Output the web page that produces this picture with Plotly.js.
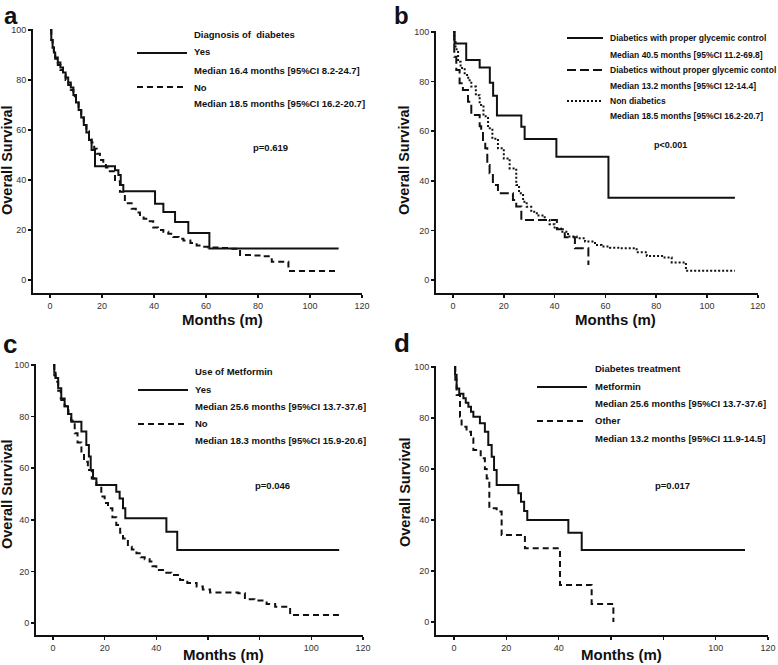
<!DOCTYPE html>
<html>
<head>
<meta charset="utf-8">
<script src="https://cdn.plot.ly/plotly-3.0.1.min.js"></script>
<style>
  html, body { margin: 0; padding: 0; background: #fff; }
  #chart { width: 778px; height: 665px; }
</style>
</head>
<body>
<div id="chart"></div>
<script>
// ---- data (months, % surviving) ----

// a: diagnosis of diabetes
const aYesMonths = [0, 0.5, 1, 1.5, 2, 3, 4, 5, 6, 7, 8, 9, 10, 11, 12, 13, 14, 15, 16, 17.3, 25, 26.3, 27.2, 28.2, 40.4, 43.6, 48.1, 53.2, 61.3, 111];
const aYesSurv = [100, 96, 93, 91, 89, 87, 85, 83, 81, 79, 77, 74, 71, 68, 65, 62, 59, 56, 52, 45.5, 43.9, 42, 38, 35.5, 30.5, 27.2, 23.2, 18.8, 12.6, 12.6];
const aNoMonths = [0, 0.5, 1, 1.5, 2, 3, 4, 5, 6, 7, 8, 9, 10, 11, 12, 13, 14, 15, 16, 17, 18, 19.2, 20.5, 21.5, 23, 25, 26.9, 28.8, 31.4, 33, 34.6, 36, 37.8, 39.7, 41.5, 43.6, 45.5, 47.4, 49.5, 51.3, 54, 56.4, 58.5, 60.9, 65, 69, 73.1, 78, 82, 85.3, 91.7, 111];
const aNoSurv = [100, 96, 93, 90.5, 88.5, 86, 84, 82, 80, 78, 76, 73.5, 71, 68, 65, 62, 59.5, 57, 55, 52.5, 50.5, 48, 46.5, 45, 43.5, 39.5, 35.3, 30.7, 28.5, 27, 25.5, 24.5, 23.5, 21, 20, 19.3, 18.5, 17.2, 16.5, 15.8, 14.8, 13.8, 13.3, 13, 12.8, 12.5, 10, 9.8, 9.5, 7.3, 3.6, 3.6];

// b: glycemic control
const bProperMonths = [0, 0.6, 5.2, 10.5, 14.5, 15.8, 17.3, 26.9, 28.2, 40.7, 61.2, 111];
const bProperSurv = [100, 95.4, 88.7, 85.7, 79.5, 74.3, 66.3, 61.8, 56.9, 49.7, 33.2, 33.2];
const bPoorMonths = [0, 0.5, 1.3, 2.6, 3.9, 5.9, 7.2, 10.5, 11.1, 11.8, 12.7, 13.5, 14.4, 15.7, 17.7, 23.6, 24.9, 26.9, 40.9, 44, 48, 53.3];
const bPoorSurv = [100, 90, 84.7, 79.3, 76.6, 71.9, 66.5, 62, 59.8, 56, 53.1, 46.4, 43, 38.3, 35, 32.3, 29.6, 24.2, 20.5, 17.2, 12.8, 6];
const bNonMonths = [0, 0.5, 1, 2, 3, 4.6, 6, 7.2, 9, 10.5, 12, 13.8, 15.5, 17.7, 20, 22.3, 24.9, 26, 27.6, 29, 30.8, 33, 36.1, 38, 40, 42.5, 45.3, 48.7, 52, 55.9, 58.5, 61.8, 66, 72.3, 76.3, 82.7, 86.1, 91.7, 111];
const bNonSurv = [100, 96, 93, 88, 85.5, 82.7, 80.5, 78, 74.5, 70.6, 66, 61.2, 57, 53.1, 49, 45, 38.3, 35, 31.6, 29.5, 27.5, 26, 24.2, 22.5, 20.8, 19.5, 17.5, 16.8, 15.5, 14.1, 13.5, 13, 12.8, 11.2, 9.7, 9.1, 7.1, 3.7, 3.7];

// c: use of metformin
const cYesMonths = [0, 0.5, 1, 2, 3.2, 4.5, 5.8, 7.1, 11, 12.9, 13.9, 14.6, 15.5, 16.8, 24.5, 25.8, 27.1, 28, 43.9, 48.1, 110.8];
const cYesSurv = [100, 97, 95, 91, 86.4, 84, 81, 78, 74.2, 69, 64.5, 59.3, 56, 53.5, 50.9, 48.3, 44.5, 40.6, 35.4, 28.3, 28.3];
const cNoMonths = [0, 0.5, 1, 2, 3, 4.5, 6, 7, 8.4, 9.5, 11, 12, 13.5, 15, 16.8, 18.7, 20, 21.3, 23, 24.5, 26, 27.1, 29, 30.5, 32.3, 34, 35.5, 37.4, 38.5, 40, 42.6, 45.8, 49.2, 52, 55.6, 58, 60.8, 71.7, 74.3, 78, 82.7, 86, 91.8, 111.1];
const cNoSurv = [100, 96, 93.5, 90, 87, 84, 81, 78.5, 73.5, 70, 65.8, 62.5, 59.3, 56, 53.5, 49, 46.5, 44.5, 41, 38, 35, 32.8, 29.6, 28.5, 27, 25.5, 24.7, 23.8, 22, 20.5, 19.5, 18.6, 16.7, 15.5, 14.1, 13, 11.8, 11.5, 9.2, 8.7, 7.4, 6.3, 3.1, 3.1];

// d: diabetes treatment
const dMetMonths = [0, 0.4, 1, 2, 3.6, 4.5, 5.5, 6.5, 7.4, 9.9, 11.8, 13.1, 14.4, 15.3, 16.3, 24.6, 25.6, 26.8, 28, 43.7, 48.8, 111.2];
const dMetSurv = [100, 97, 91.6, 89.5, 87.7, 86, 84.4, 82.5, 80.5, 77.9, 74.6, 69.4, 64.8, 59.6, 53.7, 50.5, 47.2, 43.5, 40, 35, 28.2, 28.2];
const dOtherMonths = [0, 0.5, 1, 2.3, 2.9, 4.8, 6.5, 7.4, 10.2, 11.8, 12.5, 13.5, 16.3, 18.2, 27.1, 40.5, 52.6, 60.9];
const dOtherSurv = [100, 95, 89, 80.5, 76.6, 74.6, 72, 67.5, 64.2, 60, 56.3, 44.6, 43.3, 34.1, 28.9, 14.5, 7.1, 0];

const xTicks = [0, 20, 40, 60, 80, 100, 120];
const xTickText = ['0', '20', '40', '60', '80', '100', '120'];
// in the lower panels the axis title sits on top of the 60 and 80 labels
const xTickTextLow = ['0', '20', '40', '', '', '100', '120'];
const yTicks = [0, 20, 40, 60, 80, 100];

// ---- page geometry (pixels) ----
const W = 778, H = 665;
const px = x => x / W;
const py = y => 1 - y / H;

const FONT = 'Liberation Sans, Arial, sans-serif';
const INK = '#111';

// dash patterns used for the curves and their legend samples
const SOLID = 'solid';
const DASH = '6px,4px';
const LONGDASH = '9px,4px';
const DOT = '2px,2px';

// where each panel's axes sit: pixel of 0 and pixels per unit
const panels = [
    { x0: 50, xs: 2.6, left: 33, y0: 280, ys: 2.5, bottom: 293, labels: xTickText },
    { x0: 453, xs: 2.54, left: 436, y0: 280, ys: 2.48, bottom: 293, labels: xTickText },
    { x0: 53, xs: 2.583, left: 36, y0: 623, ys: 2.58, bottom: 635, labels: xTickTextLow },
    { x0: 454, xs: 2.617, left: 436, y0: 622, ys: 2.55, bottom: 635, labels: xTickTextLow }
];

const layout = {
    width: W,
    height: H,
    margin: { l: 0, r: 0, t: 0, b: 0 },
    paper_bgcolor: '#fff',
    plot_bgcolor: '#fff',
    showlegend: false,
    font: { family: FONT, color: INK },
    annotations: [],
    shapes: []
};

panels.forEach((p, i) => {
    const n = i === 0 ? '' : String(i + 1);
    const right = p.x0 + 120 * p.xs;
    const top = p.y0 - 100.5 * p.ys;
    const axisCommon = {
        showline: true,
        linewidth: 2,
        linecolor: INK,
        ticks: 'outside',
        ticklen: 3,
        tickwidth: 1.5,
        tickcolor: INK,
        showgrid: false,
        zeroline: false,
        tickfont: { family: FONT, size: 9, color: '#333' },
        fixedrange: true
    };
    layout['xaxis' + n] = Object.assign({}, axisCommon, {
        domain: [px(p.left), px(right)],
        range: [(p.left - p.x0) / p.xs, 120],
        tickvals: xTicks,
        ticktext: p.labels,
        anchor: 'y' + n
    });
    layout['yaxis' + n] = Object.assign({}, axisCommon, {
        domain: [py(p.bottom), py(top)],
        range: [-(p.bottom - p.y0) / p.ys, 100.5],
        tickvals: yTicks,
        anchor: 'x' + n
    });
});

function curve(months, surv, axisIndex, dash) {
    const n = axisIndex === 0 ? '' : String(axisIndex + 1);
    return {
        x: months,
        y: surv,
        type: 'scatter',
        mode: 'lines',
        line: { shape: 'hv', color: INK, width: 2, dash: dash },
        xaxis: 'x' + n,
        yaxis: 'y' + n,
        hoverinfo: 'skip'
    };
}

const traces = [
    curve(aNoMonths, aNoSurv, 0, DASH),
    curve(aYesMonths, aYesSurv, 0, SOLID),
    curve(bNonMonths, bNonSurv, 1, DOT),
    curve(bPoorMonths, bPoorSurv, 1, LONGDASH),
    curve(bProperMonths, bProperSurv, 1, SOLID),
    curve(cNoMonths, cNoSurv, 2, DASH),
    curve(cYesMonths, cYesSurv, 2, SOLID),
    curve(dOtherMonths, dOtherSurv, 3, DASH),
    curve(dMetMonths, dMetSurv, 3, SOLID)
];

// ---- text helpers ----
function label(text, x, y, size, opts) {
    layout.annotations.push(Object.assign({
        text: text,
        xref: 'paper', yref: 'paper',
        x: px(x), y: py(y),
        xanchor: 'left', yanchor: 'middle',
        showarrow: false,
        font: { family: FONT, size: size, color: INK, weight: 'bold' }
    }, opts || {}));
}

function sample(x1, x2, y, dash) {
    layout.shapes.push({
        type: 'line', xref: 'paper', yref: 'paper',
        x0: px(x1), x1: px(x2), y0: py(y), y1: py(y),
        line: { color: INK, width: 2, dash: dash }
    });
}

// panel letters
label('a', 2, 0, 24, { yanchor: 'top' });
label('b', 392, 0, 24, { yanchor: 'top' });
label('c', 1, 344, 26);
label('d', 392, 343, 26);

// axis titles
[[7, 160], [404, 160], [7, 494], [405, 492]].forEach(([x, y]) => {
    label('Overall Survival', x, y, 14.5, { xanchor: 'center', textangle: -90 });
});
[[222, 319], [615, 319], [223, 654], [621, 654]].forEach(([x, y]) => {
    label('Months (m)', x, y, 15, { xanchor: 'center' });
});

// legend a
label('Diagnosis of  diabetes', 192, 35, 9.5);
sample(137, 187, 53, SOLID);
label('Yes', 192, 52, 9.5);
label('Median 16.4 months [95%CI 8.2-24.7]', 192, 70, 9.5);
sample(137, 187, 87, DASH);
label('No', 192, 87, 9.5);
label('Median 18.5 months [95%CI 16.2-20.7]', 192, 104, 9.5);
label('p=0.619', 270, 147, 9.5, { xanchor: 'center' });

// legend b
sample(567, 603, 38, SOLID);
label('Diabetics with proper glycemic control', 608, 38, 8.5);
label('Median 40.5 months [95%CI 11.2-69.8]', 608, 55, 8.5);
sample(567, 603, 70, LONGDASH);
label('Diabetics without proper glycemic contol', 608, 70, 8.5);
label('Median 13.2 months [95%CI 12-14.4]', 608, 86, 8.5);
sample(567, 603, 101, DOT);
label('Non diabetics', 608, 101, 8.5);
label('Median 18.5 months [95%CI 16.2-20.7]', 608, 116, 8.5);
label('p&lt;0.001', 670, 145, 9, { xanchor: 'center' });

// legend c
label('Use of Metformin', 193, 371.5, 9.5);
sample(138, 188, 390, SOLID);
label('Yes', 193, 389, 9.5);
label('Median 25.6 months [95%CI 13.7-37.6]', 193, 406, 9.5);
sample(138, 188, 424, DASH);
label('No', 193, 423, 9.5);
label('Median 18.3 months [95%CI 15.9-20.6]', 193, 440.5, 9.5);
label('p=0.046', 272, 485, 9.5, { xanchor: 'center' });

// legend d
label('Diabetes treatment', 593, 368, 9.5);
sample(537, 587, 387, SOLID);
label('Metformin', 593, 386, 9.5);
label('Median 25.6 months [95%CI 13.7-37.6]', 593, 403, 9.5);
sample(537, 587, 421, DASH);
label('Other', 593, 421, 9.5);
label('Median 13.2 months [95%CI 11.9-14.5]', 593, 438, 9.5);
label('p=0.017', 672, 485, 9.5, { xanchor: 'center' });

Plotly.newPlot('chart', traces, layout, { displayModeBar: false, staticPlot: true });
</script>
</body>
</html>
